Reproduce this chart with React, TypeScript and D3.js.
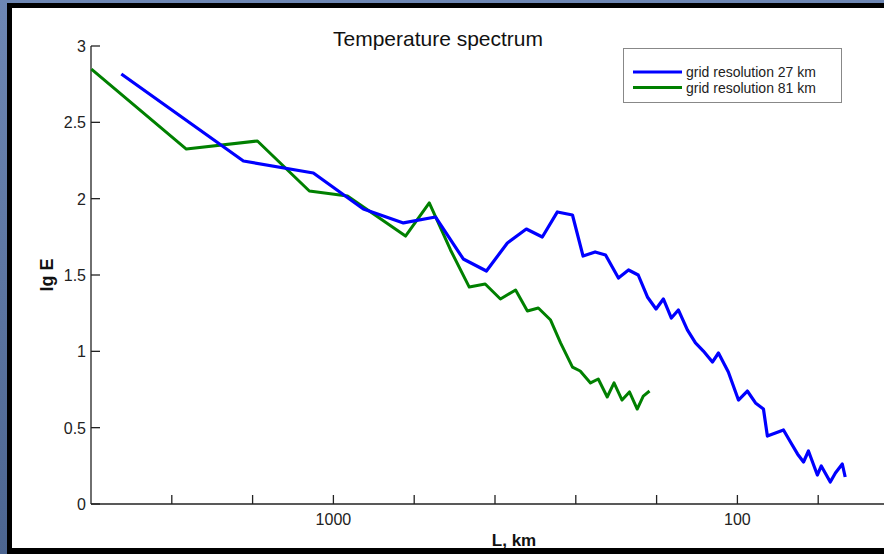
import React from "react";
import * as d3 from "d3";

// Data: L (km) and lg E
const blueL = [3349, 1670, 1121, 843, 671, 559, 477, 418, 371, 333, 304, 279, 256, 241, 225, 212, 197, 186, 176, 167, 159, 152.5, 145.7, 140, 133, 127, 121.4, 115.3, 111.4, 105.3, 99.4, 94.5, 90.2, 86.2, 84.3, 80.5, 76.9, 73.9, 71.0, 68.6, 66.7, 63.4, 62.0, 58.9, 57.2, 55.0, 54.1];
const blueE = [2.817, 2.247, 2.168, 1.932, 1.841, 1.88, 1.605, 1.526, 1.71, 1.801, 1.749, 1.913, 1.893, 1.624, 1.651, 1.631, 1.48, 1.533, 1.5, 1.356, 1.277, 1.343, 1.218, 1.271, 1.14, 1.055, 1.002, 0.93, 0.989, 0.865, 0.681, 0.74, 0.662, 0.622, 0.445, 0.465, 0.485, 0.406, 0.328, 0.275, 0.347, 0.19, 0.249, 0.144, 0.203, 0.262, 0.177];
const greenL = [3972, 2312, 1542, 1147, 923, 663, 579, 513, 461, 421, 386, 354, 331, 311, 290, 274, 256, 245, 231, 221, 210, 202, 193, 185, 177, 171, 165];
const greenE = [2.849, 2.325, 2.378, 2.05, 2.017, 1.755, 1.972, 1.664, 1.421, 1.441, 1.343, 1.402, 1.264, 1.284, 1.205, 1.055, 0.897, 0.871, 0.793, 0.819, 0.701, 0.793, 0.681, 0.734, 0.622, 0.707, 0.74];

const seriesNames = ["grid resolution 27 km", "grid resolution 81 km"];
const seriesColors = ["#0000ff", "#008000"];
const yTicks = [0, 0.5, 1, 1.5, 2, 2.5, 3];
const yTickLabels = ["0", "0.5", "1", "1.5", "2", "2.5", "3"];
const xTickExponents = [3.4, 3.2, 3.0, 2.8, 2.6, 2.4, 2.2, 2.0, 1.8];
const xLabeled = [1000, 100];
const xLabels = ["1000", "100"];

const W = 884, H = 554;
const FONT = "'Liberation Sans', Arial, Helvetica, sans-serif";

export default function App() {
  const x = d3.scaleLog().domain([Math.pow(10, 3.6), Math.pow(10, 1.6)]).range([91, 899]);
  const y = d3.scaleLinear().domain([0, 3]).range([504, 46]);
  const line = d3.line<[number, number]>().x(d => x(d[0])).y(d => y(d[1]));
  const blue = blueL.map((l, i) => [l, blueE[i]] as [number, number]);
  const green = greenL.map((l, i) => [l, greenE[i]] as [number, number]);
  const x0 = x.range()[0];
  const yb = y(0);

  return (
    <div style={{ position: "fixed", left: 0, top: 0 }}>
      <svg width={W} height={H} style={{ display: "block" }} fontFamily={FONT}>
        <defs>
          <linearGradient id="bg" x1="0" y1="0" x2="0" y2="1">
            <stop offset="0" stopColor="#6e87b4" />
            <stop offset="1" stopColor="#4c6590" />
          </linearGradient>
        </defs>
        <rect x={0} y={0} width={W} height={H} fill="url(#bg)" />
        <rect x={7} y={3} width={W} height={H} fill="#000" />
        <rect x={12} y={8} width={W} height={540} fill="#fff" />

        <text x={438} y={46} textAnchor="middle" fontSize={21} fill="#111">Temperature spectrum</text>

        {/* axes */}
        <line x1={x0} x2={W + 10} y1={yb} y2={yb} stroke="#222" strokeWidth={1.3} />
        <line x1={x0} x2={x0} y1={y(3)} y2={yb} stroke="#222" strokeWidth={1.3} />
        {yTicks.map((t, i) => (
          <g key={"y" + i}>
            <line x1={x0} x2={x0 + 9} y1={y(t)} y2={y(t)} stroke="#222" strokeWidth={1.3} />
            <text x={x0 - 5} y={y(t) + 6} textAnchor="end" fontSize={16} fill="#222">{yTickLabels[i]}</text>
          </g>
        ))}
        {xTickExponents.map((e, i) => {
          const v = Math.pow(10, e);
          return <line key={"x" + i} x1={x(v)} x2={x(v)} y1={yb} y2={yb - 9} stroke="#222" strokeWidth={1.3} />;
        })}
        {xLabeled.map((v, i) => (
          <text key={"xl" + i} x={x(v)} y={yb + 21} textAnchor="middle" fontSize={16} fill="#222">{xLabels[i]}</text>
        ))}
        <text x={514} y={546} textAnchor="middle" fontSize={17} fontWeight="bold" fill="#111">L, km</text>
        <text transform="translate(53,275) rotate(-90)" textAnchor="middle" fontSize={18} fontWeight="bold" fill="#111">lg E</text>

        {/* lines */}
        <path d={line(green) || ""} fill="none" stroke={seriesColors[1]} strokeWidth={3} strokeLinejoin="round" />
        <path d={line(blue) || ""} fill="none" stroke={seriesColors[0]} strokeWidth={3.2} strokeLinejoin="round" />

        {/* legend */}
        <rect x={623.5} y={48.5} width={218} height={54} fill="#fff" stroke="#888" strokeWidth={1} />
        {seriesNames.map((n, i) => (
          <g key={"lg" + i}>
            <line x1={633} x2={682} y1={72 + i * 15.5} y2={72 + i * 15.5} stroke={seriesColors[i]} strokeWidth={3} />
            <text x={686} y={72 + i * 15.5 + 5} fontSize={14} fill="#222">{n}</text>
          </g>
        ))}
      </svg>
    </div>
  );
}
